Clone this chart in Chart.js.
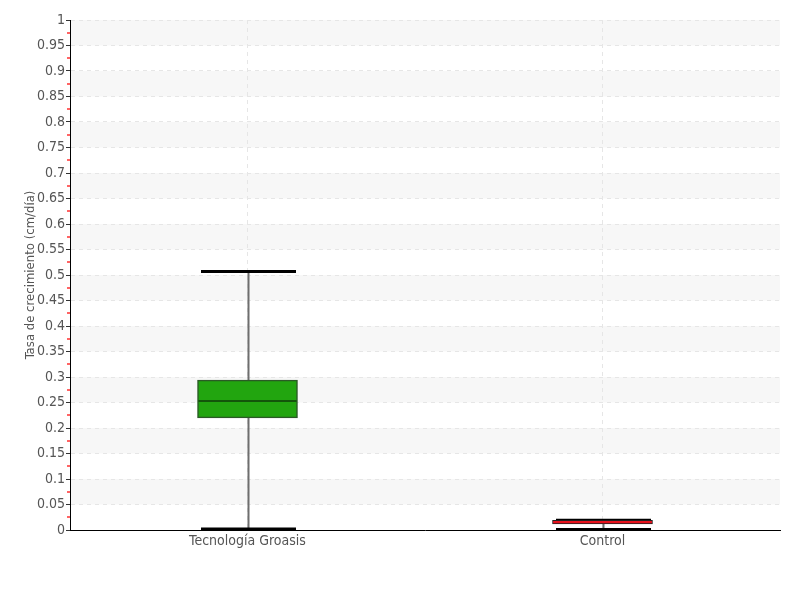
<!DOCTYPE html>
<html>
<head>
<meta charset="utf-8">
<script src="https://cdn.jsdelivr.net/npm/chart.js@4/dist/chart.umd.min.js"></script>
<style>
  html, body { margin: 0; padding: 0; background: #fff; }
  #wrap { width: 800px; height: 600px; }
</style>
</head>
<body>
<div id="wrap"><canvas id="c" width="800" height="600"></canvas></div>
<script>
const categories = ['Tecnología Groasis', 'Control'];
const mins    = [0.002, 0.001];
const q1s     = [0.220, 0.012];
const medians = [0.253, 0.015];
const q3s     = [0.294, 0.019];
const maxs    = [0.507, 0.019];
const yTickLabels = ['0','0.05','0.1','0.15','0.2','0.25','0.3','0.35','0.4','0.45','0.5','0.55','0.6','0.65','0.7','0.75','0.8','0.85','0.9','0.95','1'];
const yTitle = 'Tasa de crecimiento (cm/día)';

const FONT = "'Liberation Sans Narrow', 'DejaVu Sans Condensed', 'Roboto', sans-serif";

const bandsPlugin = {
  id: 'bands',
  beforeDraw(chart) {
    const { ctx, chartArea: a, scales: { y } } = chart;
    ctx.save();
    ctx.fillStyle = '#f7f7f7';
    for (let k = 1; k < yTickLabels.length - 1; k += 2) {
      const lo = parseFloat(yTickLabels[k]);
      const hi = parseFloat(yTickLabels[k + 1]);
      const top = y.getPixelForValue(hi), bot = y.getPixelForValue(lo);
      ctx.fillRect(a.left, top, a.right - a.left, bot - top);
    }
    ctx.restore();
  },
  afterDraw(chart) {
    const { ctx, chartArea: a, scales: { y } } = chart;
    ctx.save();
    ctx.strokeStyle = '#ff3030';
    ctx.lineWidth = 1.5;
    for (let k = 0; k < yTickLabels.length - 1; k++) {
      const v = (parseFloat(yTickLabels[k]) + parseFloat(yTickLabels[k + 1])) / 2;
      const py = Math.round(y.getPixelForValue(v));
      ctx.beginPath();
      ctx.moveTo(a.left - 3, py);
      ctx.lineTo(a.left, py);
      ctx.stroke();
    }
    ctx.restore();
  }
};

const whiskerPlugin = {
  id: 'whiskers',
  beforeDatasetsDraw(chart) {
    const { ctx, scales: { x, y } } = chart;
    ctx.save();
    categories.forEach((c, i) => {
      const cx = Math.round(x.getPixelForValue(i)) + 0.5;
      ctx.strokeStyle = '#6e6e6e';
      ctx.lineWidth = 2;
      ctx.beginPath();
      ctx.moveTo(cx, y.getPixelForValue(maxs[i]));
      ctx.lineTo(cx, y.getPixelForValue(mins[i]));
      ctx.stroke();
      ctx.strokeStyle = '#000';
      ctx.lineWidth = 3;
      const hw = 47.5;
      [mins[i], maxs[i]].forEach(v => {
        const py = y.getPixelForValue(v);
        ctx.beginPath();
        ctx.moveTo(cx - hw, py);
        ctx.lineTo(cx + hw, py);
        ctx.stroke();
      });
    });
    ctx.restore();
  },
  afterDatasetsDraw(chart) {
    const { ctx, scales: { x, y } } = chart;
    ctx.save();
    categories.forEach((c, i) => {
      const cx = x.getPixelForValue(i);
      const py = y.getPixelForValue(medians[i]);
      ctx.strokeStyle = i === 0 ? '#0f3d0a' : '#e5101b';
      ctx.lineWidth = 1.5;
      ctx.beginPath();
      ctx.moveTo(cx - 49, py);
      ctx.lineTo(cx + 49, py);
      ctx.stroke();
    });
    ctx.restore();
  }
};

new Chart(document.getElementById('c'), {
  type: 'bar',
  data: {
    labels: categories,
    datasets: [{
      data: categories.map((c, i) => [q1s[i], q3s[i]]),
      backgroundColor: ['#22a50f', '#ec1220'],
      borderColor: ['#2b5a26', '#222222'],
      borderWidth: [1.5, 1],
      borderSkipped: false,
      barThickness: 100
    }]
  },
  options: {
    responsive: false,
    animation: false,
    devicePixelRatio: 1,
    layout: { padding: { top: 20, right: 20, bottom: 40, left: 10 } },
    plugins: { legend: { display: false }, tooltip: { enabled: false } },
    scales: {
      x: {
        afterFit: s => { s.height = 30; },
        grid: { display: true, offset: false, color: '#e6e6e6', drawTicks: false },
        border: { display: true, color: '#000', width: 1, dash: [4, 4] },
        ticks: { color: '#555', padding: 3, font: { family: FONT, size: 14 } }
      },
      y: {
        min: 0, max: 1,
        afterFit: s => { s.width = 60; },
        afterBuildTicks: s => {
          s.ticks = yTickLabels.map(t => ({ value: parseFloat(t) }));
        },
        grid: {
          color: '#e6e6e6',
          tickColor: '#333',
          tickLength: 4,
          lineWidth: 1
        },
        border: { display: true, color: '#000', width: 1, dash: [4, 4] },
        ticks: {
          autoSkip: false,
          color: '#555',
          padding: 1,
          font: { family: FONT, size: 14 },
          callback: (v, idx) => yTickLabels[idx]
        },
        title: { display: true, text: yTitle, color: '#555', padding: { top: 13, bottom: 0 }, font: { family: FONT, size: 13 } }
      }
    }
  },
  plugins: [bandsPlugin, whiskerPlugin]
});
</script>
</body>
</html>
